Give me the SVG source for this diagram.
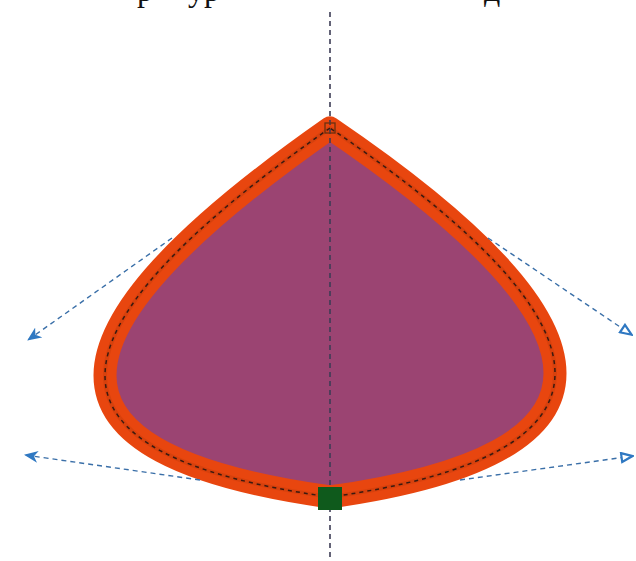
<svg xmlns="http://www.w3.org/2000/svg" width="636" height="561" viewBox="0 0 636 561">
<style>
.cap{font-family:"Liberation Serif","DejaVu Serif",serif;font-size:32px;fill:#111}
.handle{fill:none;stroke:#3a6fa8;stroke-width:1.4;stroke-dasharray:5 4}
.axis{fill:none;stroke:#3c3c55;stroke-width:1.6;stroke-dasharray:5 4}
</style>
<defs>
<marker id="arrF" viewBox="0 0 14 12" refX="13" refY="6" markerWidth="14" markerHeight="12" markerUnits="userSpaceOnUse" orient="auto">
<path d="M0,0 L14,6 L0,12 L4,6 Z" fill="#2f78c2"/>
</marker>
<marker id="arrH" viewBox="0 0 14 12" refX="13" refY="6" markerWidth="14" markerHeight="12" markerUnits="userSpaceOnUse" orient="auto">
<path d="M1.5,1.5 L12.5,6 L1.5,10.5 Z" fill="#ffffff" stroke="#2f78c2" stroke-width="2.2"/>
</marker>
</defs>
<rect width="636" height="561" fill="#ffffff"/>
<g id="caption">
<text class="cap" x="137" y="1">р</text>
<text class="cap" x="188" y="1">ур</text>
<text class="cap" x="484" y="1">д</text>
</g>
<g id="shape">
<path d="M330,128 C30,338 30,455 330,497 C630,455 630,332 330,128 Z" fill="#9b4472" stroke="#e8460f" stroke-width="23" stroke-linejoin="round"/>
<path d="M330,128 C30,338 30,455 330,497 C630,455 630,332 330,128 Z" fill="none" stroke="#b8380c" stroke-width="4" stroke-opacity="0.35"/>
<path d="M330,128 C30,338 30,455 330,497 C630,455 630,332 330,128 Z" fill="none" stroke="#3a1a10" stroke-width="1.5" stroke-dasharray="4 4"/>
</g>
<g id="connectors">
<line class="axis" x1="330" y1="12" x2="330" y2="561"/>
<line class="handle" x1="172" y1="238" x2="28" y2="340" marker-end="url(#arrF)"/>
<line class="handle" x1="200" y1="480" x2="25" y2="455" marker-end="url(#arrF)"/>
<line class="handle" x1="488" y1="238" x2="632" y2="335" marker-end="url(#arrH)"/>
<line class="handle" x1="460" y1="480" x2="633" y2="456" marker-end="url(#arrH)"/>
</g>
<g id="node-top">
<rect x="325" y="123" width="10" height="10" fill="none" stroke="#6a3010" stroke-width="1.3"/>
</g>
<g id="node-bottom">
<rect x="318" y="487" width="24" height="23" fill="#0f5a1c"/>
</g>
</svg>
